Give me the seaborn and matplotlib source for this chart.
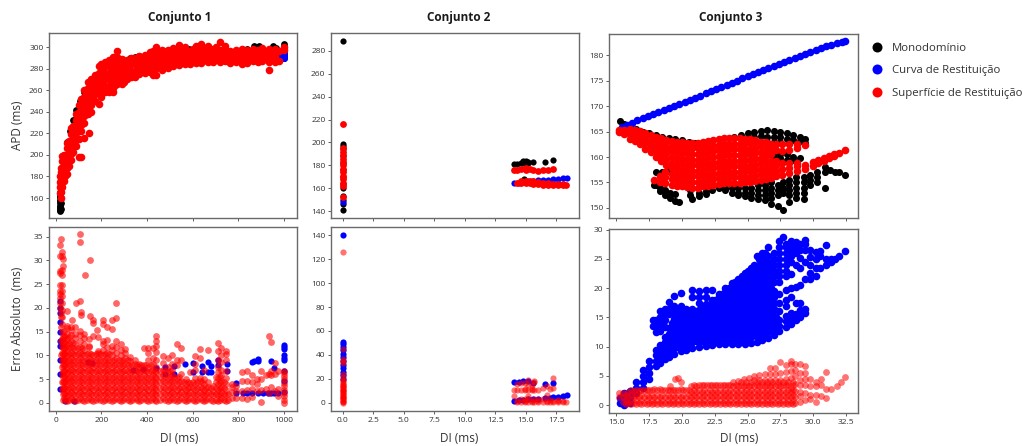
import matplotlib
matplotlib.use("Agg")
import matplotlib.pyplot as plt
from matplotlib.lines import Line2D
import pandas as pd
import seaborn as sns

# Each dict: x value -> y values
c1_apd_black = {18:[148,150,152,155,158,162,166],20:[149,153,157,161],22:[150,155,160],30:[186],36:[200],50:[212],62:[222],75:[232],90:[242],105:[250],125:[258],150:[268],175:[274],325:[290],345:[291],365:[292],440:[297],470:[296],585:[298],620:[297],672:[299],690:[297],760:[296],840:[298],870:[299,301],890:[300,301],915:[295],950:[299,301],965:[299],998:[292,294,296,300,303],1000:[290,293,297]}
c1_apd_blue = {790:[291],820:[291],850:[291],880:[292],910:[292],940:[291],970:[291],990:[290,292,294],1000:[290,292,294]}
c1_apd_red = {18:[165,170,175,180],22:[160,166,172,178,184,188],28:[170,176,182,188,194,199],34:[176,182,188,194,200],40:[180,186,192,198],48:[182,188,194,200,206,211],56:[190,196,202,208,213],66:[195,201,207,213,219,225],76:[203,209,215,221,227],88:[208,214,220,226,232,238],100:[198,215,222,228,234,240,246],112:[198,222,228,234,240,246,252],125:[216,230,236,242,248,254,260],140:[238,244,250,256,262,268],146:[220],155:[240,246,252,258,264,270],170:[250,256,262,268,274],187:[247,258,264,270,276,282],200:[254,260,266,272,278,284],215:[258,264,270,276,282,286],235:[258,264,270,276,282,288],250:[258,262,268,274,280,286,291],270:[266,272,278,284,291,296],290:[266,272,278,284,289],310:[270,276,282,288],330:[272,278,284,290],345:[272,278,284,290],365:[275,281,287,292],390:[276,282,288,293],412:[277,283,289,295],425:[274,283,290,296],441:[274,281,287,293,300],465:[279,285,291,297],490:[281,286,292,297],515:[282,288,294,299],540:[283,289,295,302],565:[284,290,296,300],590:[284,290,296],615:[285,290,296,301],638:[285,291,297,303],665:[286,291,297,301],690:[286,292,298],718:[286,291,297,305],740:[287,292,298,301],765:[285,290,296],790:[286,291,297],815:[284,290,298],840:[285,290,297],865:[287,292,298],885:[286,292,297],905:[287,293,299],934:[279,286,291,298],960:[286,292,298],980:[287,296],1000:[297,300]}
c1_apd_red_more = {260:[265,271,277,283],280:[269,275,281,287],300:[268,274,280,286],320:[274,280,286],355:[278,284,290],378:[278,284,290],402:[279,285,291],433:[280,286,292],453:[282,288,294],478:[283,289,295],502:[284,290,296],528:[285,291,297],552:[286,292,298],578:[287,293],602:[287,293,298],627:[288,294],652:[288,294,299],678:[289,295],704:[289,294,300],730:[289,295],752:[290,295],778:[288,294],803:[288,294],828:[288,294],852:[289,295],875:[289,295],895:[289,295],920:[289,295],948:[289,295]}

c1_err_blue = {18:[13,15,17,19,20,21.5],20:[3,6,9,12],40:[0.3],80:[0.3],140:[8.6],160:[8.5],340:[7],380:[7.2],440:[7.3],480:[6,7.6],520:[6,7.7],565:[8.2],600:[6.5,8.4],640:[6.5,7.7],665:[6.6,8.7],680:[7.8,6.5],710:[8,9],750:[8.2,6.8],790:[4.2,2],820:[2],840:[2],860:[2,8.7],870:[8.8],885:[2,8.8,9.3],910:[2],930:[2],945:[2,8.8],955:[7.3,2],975:[2],1000:[2.2,4.6,6.8,9,9.5,10,11.3,11.8,12.2]}
c1_err_red_a = {20:[20,21,22,23,23.5,24.7,27.3,27.8,31,33.3],22:[10,13,16,18,19,34.5],25:[3,4.5,6,7.5,9,10.5,12,13.5,15,16.5,18,19.5,21,22.5,23.5,24.8,28],28:[27,30.8,31.8],30:[28.7,30.3],35:[1,2,3.2,4.4,5.6,6.8,8,9.2,10.4,11.6,12.8,14,15.2],50:[0.4,1.4,2.6,3.8,5,6.2,7.4,8.6,9.8,11,12.2,13.4,14.6,15.8,16.2,19.3],65:[1,2.2,3.4,4.6,5.8,7,8.2,9.4,10.6,11.8,13,14.2,15.4,16],70:[17.4],85:[0.4,1.6,2.8,4,5.2,6.4,7.6,8.8,10,11.2,12.4,13.6,14.5,16],90:[21],105:[1,2.2,3.4,4.6,5.8,7,8.2,9.4,10.6,11.8,13,14.2,15.2],108:[21.4,33.8,35.5],110:[18.5,19.2],125:[0.4,1.6,2.8,4,5.2,6.4,7.6,8.8,10,11.2,12.4,13.6,14.5],127:[27],145:[1,2.2,3.4,4.6,5.8,7,8.2,9.4,10.6,11.8,12,13.5],148:[18.2,30],165:[0.4,1.6,2.8,4,5.2,6.4,7.6,8.8,10,14,16.8,17.5],180:[15.3],185:[1,2.2,3.4,4.6,5.8,7,8.2,9.4,10.6,11,13.8],205:[0.4,1.6,2.8,4,5.2,6.4,7.6,8.8,10,11.2,12.4,13,16.6,17.4],225:[1,2.2,3.4,4.6,5.8,7,8.2,9.4,10.6,11.8,13.3,16]}
c1_err_red_b = {245:[0.4,1.6,2.8,4,5.2,6.4,7.6,8.8,10,11.2,12,15.5,17.5],265:[1,2.2,3.4,4.6,5.8,7,8.2,9.4,10.6,11.8,13,17.8,21],285:[0.4,1.6,2.8,4,5.2,6.4,7.6,8.8,10,11.2,12.3],305:[1,2.2,3.4,4.6,5.8,7,8.2,9.4,10.6,11.4],325:[0.4,1.6,2.8,4,5.2,6.4,7.6,8.8,9.6],345:[1,2.2,3.4,4.6,5.8,7,8.2,9],365:[0.4,1.6,2.8,4,5.2,6.4,7.6,8.2],385:[1,2.2,3.4,4.6,5.8,7,8,11.6],405:[0.4,1.6,2.8,4,5.2,6.4,7.6,9,10.5,11.5],425:[1,2.2,3.4,4.6,5.8,7,8.2,9.5,11.6],440:[0.4,1.6,2.8,4,5.2,6.4,7.6,9,10.8,12,13,14],470:[1,2.2,3.4,4.6,5.8,7,8.3,9.8],490:[0.4,1.6,2.8,4,5.2,6.4,7.6,9.5],510:[1,2.2,3.4,4.6,5.8,7,8.2,10],530:[0.4,1.6,2.8,4,5.2,8,9,12.4],550:[1,2.2,3.4,4.6,6,9,11.6],570:[0.4,1.6,2.8,4,5.1],590:[1,2.2,3.4,4.2,6.5],610:[0.4,1.6,2.8,4,5.2,7,8.2,9.8],630:[1,2.2,3.4,4.6,5.3,9.5,11.4],650:[0.4,1.6,2.8,4,5,7],665:[1,2.2,3.4,4.3,11.2],690:[0.4,1.6,2.5,3.5],710:[0.4,1.6,2.8,4,5.2,6.4,7.5,9,11,12.7],725:[1,2.2,3.4,4.6,5.8,7,8.6,10,11.5],745:[0.4,1.6,2.8,4,5.2,6.7,9,10.3,11],770:[1,2.2,3.4,4],790:[1,2.6,3.5],815:[1,2.6,4.6,6.5],840:[0.8,2.8,4.6,6.7],860:[1.2,3,4.3,5.8],880:[2.5,4,5],900:[0.2,2.8,5,6.8],920:[3,5.8],935:[2,6,14],945:[3.4,5.8,6.8,12.8],960:[2.5,6,8.5],975:[1.5,3,6.8],1000:[0,0.7,1.4,2,2.8,3.5,4.2,5,5.6,6.2,6.8]}
# denser lower band of the error cloud in set 1
err_levels = [0.7,1.9,3.1,4.3,5.5,6.7,7.9,9.1,10.3,11.5,12.7,13.9]
c1_err_red_band = {30:err_levels[:12],42:err_levels[:12],57:err_levels[:12],75:err_levels[:11],95:err_levels[:10],115:err_levels[:10],135:err_levels[:9],155:err_levels[:9],175:err_levels[:9],195:err_levels[:9],215:err_levels[:9],235:err_levels[:9],255:err_levels[:8],275:err_levels[:8],295:err_levels[:8],315:err_levels[:8],335:err_levels[:7],355:err_levels[:7],375:err_levels[:7],395:err_levels[:7],415:err_levels[:7],435:err_levels[:6],455:err_levels[:6],480:err_levels[:6],500:err_levels[:6],520:err_levels[:5],540:err_levels[:5],560:err_levels[:4],580:err_levels[:4],600:err_levels[:4],620:err_levels[:4],640:err_levels[:4],660:err_levels[:3],680:err_levels[:3],700:err_levels[:5],718:err_levels[:5],735:err_levels[:4],755:err_levels[:2]}

c2_apd_black = {0:[141,146,150,153,160,164,170,176,182,188,194,197,199,288.5],14:[181.5],14.3:[181.5],14.6:[182],14.8:[182,183.5],15:[182,183,184],15.2:[182,183],15.6:[183],16.6:[183],17.2:[184.5],14.81:[168]}
c2_apd_blue = {0:[148],14:[164.5],14.4:[165],14.8:[165.5],15.2:[166],15.6:[166.4],16:[166.8],16.4:[167.2],16.8:[167.5],17.2:[168],17.6:[168.4],18:[168.8],18.4:[169]}
c2_apd_red = {0:[152,162,165,168,171,174,177,180,183,186,189,192,195,216.5],14:[176],14.3:[176,165],14.6:[176.5,164.5,166.5],15:[176,177.5,164.5,166.5],15.3:[176.5,164.5,166.5],15.6:[176,164,166],16:[175.5,163.5,165.5],16.4:[176,163,165],16.8:[176,162.5,164.5],17.2:[176.5,162.5,164],17.6:[162.5,164],18:[162.5,163.5],18.3:[162.5]}

c2_err_blue = {0:[20,23,26,29,32,35,38,41,44,47,49,51,140],14:[2,17.5],14.4:[2.2,17.5],14.8:[2.5,18.3],15.2:[3,18.3],15.6:[3,17],16:[3.5],16.6:[4,16],17:[4.5],17.2:[5,17],17.6:[5.3],18:[5.8],18.4:[6.3]}
c2_err_red = {0:[0.3,1,1.5,2,3,4,4.5,5,6,7,7.5,8,9,10,10.5,11,12,13,13.5,14,15,16,16.5,18,19,22,24,33,35,37,45,126],14:[5.5,11],14.3:[0.5,2,10.5,16],14.6:[1,3,11,16.5],14.9:[0.5,2,3.5,10.5,12,17],15.2:[1,3,6,11,15,19],15.5:[0.5,2,10.5,12,15],15.7:[1,3,11,17.5,18.5],16:[0.5,2,3.5,10.5],16.4:[1,3,12.5],16.7:[0.5,2,6.5,14.5],17:[1,2.5,12],17.2:[0.5,2,12.5,21],17.6:[0.5,1.5,2.5],18:[0.5,1.5],18.3:[0.5]}

c3_apd_black = {15.3:[167],15.6:[166.5],16:[166],16.5:[165.5],17:[165],17.5:[164.7],18:[164.3,157,154.5],18.5:[164,157,155],19:[163.8,157.2],19.5:[163.6,152.8,151.3],20:[163.3],20.5:[163],21:[162.8],24:[164],24.5:[164.4],25:[164.8,164],25.5:[165,164],26:[165.2,164.2],26.5:[165.3,164,163],27:[165.2,164,163,161,160],27.5:[165,164,163,160.5,159.8],28:[164.8,163.6,160.5,159.5],28.5:[164.4,163.4,160,159.5],29:[164,163.2,159.8],29.4:[163.6,162.8],17.9:[154.5],18.3:[154,153.3],18.7:[153.5,152.6],19.1:[153,152],19.8:[151.2],20.6:[152.5,153.5],20.8:[151.8],21.3:[153,152.3],21.8:[153.3,152.7],22.3:[153.6],22.8:[154],23.3:[154,153.5],23.8:[154,153],24.3:[154,153,152.5],24.8:[154,153,152.3],25.3:[154,153,152],25.8:[154.5,153.5,152.5,151.8],26.3:[154.5,153.5,152.5,151.5],26.8:[155,154,153,152,150.8],27.3:[154.5,153.5,152.5,150.3],27.7:[155,154,153,149.6],28.2:[155.5,154.5,153.5,152.5,151.2],28.7:[156,155,154,153,152],29.3:[156,155,154,153,151.7],29.8:[156.5,155.5,154.5],30.3:[157,156,155],30.9:[158,157,154],31.3:[157.5],31.7:[157],32:[157],32.4:[156.5]}
c3_apd_blue_x = [15.4,15.8,16.2,16.6,17,17.4,17.8,18.2,18.6,19,19.4,19.8,20.2,20.6,21,21.4,21.8,22.2,22.6,23,23.4,23.8,24.2,24.6,25,25.4,25.8,26.2,26.6,27,27.4,27.8,28.2,28.6,29,29.4,29.8,30.2,30.6,31,31.4,31.8,32.2,32.4]
c3_apd_blue_y = [165.9,166.3,166.7,167.2,167.6,168,168.4,168.8,169.2,169.6,170,170.5,170.9,171.3,171.7,172.1,172.5,173,173.4,173.8,174.2,174.6,175,175.5,175.9,176.3,176.7,177.1,177.5,177.9,178.3,178.7,179.1,179.5,179.9,180.3,180.7,181,181.4,181.8,182,182.4,182.7,182.8]
c3_apd_red = {15.2:[165,165.4],15.6:[164.5,165.3],16:[163.6,164.6,165.6],16.4:[163.2,164.3,165.3],16.8:[162.5,163.6,164.7,165.2],17.2:[161.6,162.7,163.8,164.7],17.6:[161,162.1,163.2,164.3],17.9:[155.5],18:[160,161.1,162.2,163.3,164],18.3:[155,156.3],18.4:[159.2,160.3,161.4,162.5,163.7],18.7:[154.8,156,157],18.8:[158.5,159.6,160.7,161.8,162.9,163.4],19.2:[154.5,155.6,156.7,157.8,158.9,160,161.1,162.2,163.2],19.6:[154.3,155.4,156.5,157.6,158.7,159.8,160.9,162,163],20:[154.2,155.3,156.4,157.5,158.6,159.7,160.8,161.9,162.9],20.4:[154.1,155.2,156.3,157.4,158.5,159.6,160.7,161.8,162.8],20.8:[154,155.1,156.2,157.3,158.4,159.5,160.6,161.7,162.8],21.2:[154,155.1,156.2,157.3,158.4,159.5,160.6,161.7,162.8],21.6:[154.2,155.3,156.4,157.5,158.6,159.7,160.8,161.9,163],22:[154.3,155.4,156.5,157.6,158.7,159.8,160.9,162,163.1],22.4:[154.5,155.6,156.7,157.8,158.9,160,161.1,162.2,163.3],22.8:[154.7,155.8,156.9,158,159.1,160.2,161.3,162.4,163.5],23.2:[154.8,155.9,157,158.1,159.2,160.3,161.4,162.5,163.7],23.6:[154.9,156,157.1,158.2,159.3,160.4,161.5,162.6,163.8],24:[154.9,156,157.1,158.2,159.3,160.4,161.5,162.6,163.8],24.4:[154.9,156,157.1,158.2,159.3,160.4,161.5,162.6,163.7],24.8:[155,156.1,157.2,158.3,159.4,160.5,161.6,162.7,163.6],25.2:[155,156.1,157.2,158.3,159.4,160.5,161.6,162.7,163.5],25.6:[155.2,156.3,157.4,158.5,159.6,160.7,161.8,162.9,163.3],26:[155.5,156.6,157.7,158.8,159.9,161,162.1,163],26.4:[155.7,156.8,157.9,159,160.1,161.2,162.3,162.9],26.8:[155.9,157,158.1,159.2,160.6,161.6,162.6],27.2:[156.2,157.3,158.4,159.3,161.4,162.5],27.6:[156.5,157.6,158.8,161.2,162.5],28.2:[156.8,157.8,158.8,161.3,162.5],28.8:[157.2,158.2,158.8,161.8,162.6],29.4:[157.6,158.5,162.3],30:[158.3,159],30.4:[158.8,159.4],30.8:[159.3,159.8],31.2:[159.8,160.2],31.6:[160.2,160.6],32:[160.7],32.4:[161.3]}

c3_err_blue = {15.3:[0.3,1.2],15.6:[0,1,2],16:[0.3,1.3,2.4],16.5:[2,3,4],17:[3,4,5,6],17.5:[4.5,5.5,6.5,7.5],17.8:[13.5,14.6],18:[6.6,7.6,8.6,9.5,12.5,13.5,14.6],18.3:[7.2,8.2,9.2,10.2,12.6,13.8,15,16],18.7:[7.8,8.8,9.8,10.8,11.6,13.3,14.5,15.6,16.5],19:[8.2,9.2,10.2,11.2,12.2,13.2,15.5,16.5,17.7],19.4:[8.8,9.8,10.8,11.8,12.8,13.8,14.8,15.8,17,18.7],19.9:[9.2,10.2,11.2,12.2,13.2,14.2,15.2,16,17,19.1],20.3:[9.4,10.4,11.4,12.4,13.4,14.4,15.4,16.5],20.8:[9.8,10.8,11.8,12.8,13.8,14.8,15.8,16.5,18.5,19.7],21.3:[10,11,12,13,14,15,16.3,17.5,18.5,19.5],21.8:[10.1,11.1,12.1,13.1,14.1,15.1,16.1,17.3,18.5,19.7],22.3:[10.3,11.3,12.3,13.3,14.3,15.3,16.3,17.3,18,19.7],22.8:[10.4,11.4,12.4,13.4,14.4,15.4,16.4,17.4,18.5,19],23.3:[10.4,11.4,12.4,13.4,14.4,15.4,16.4,17.4,18.4,19.4,20],23.8:[10.5,11.5,12.5,13.5,14.5,15.5,16.5,17.5,18.5,19.5,20.8],24.3:[10.5,11.5,12.5,13.5,14.5,15.5,16.5,17.5,18.5,19.5,20.5,21.5],24.8:[10.5,11.5,12.5,13.5,14.5,15.5,16.5,17.5,18.5,19.5,20.5,21.5,22.5],25.3:[10.6,11.6,12.6,13.6,14.6,15.6,16.6,17.6,18.6,19.6,20.6,21.6,22.6,23.5],25.7:[10.8,11.8,12.8,13.8,14.8,15.8,16.8,17.8,18.8,19.8,20.8,21.8,22.8,23.8,25.4],26.1:[11.1,12.1,13.1,14.1,15.1,16.1,17.1,18.1,19.1,20.1,21.1,22.1,23.1,24.1,25,26],26.6:[11.5,12.5,13.5,14.5,15.5,16.5,17.5,18.5,19.5,20.5,21.5,22.5,23.5,24.5,25.5,27],27:[12,13,14,15.2,16.5,17.5,18.5,19.5,21,22,23,24,25,26],27.4:[12.6,13.6,14.6,16,17.5,19,21,22,23,24,25,26,27,28],27.7:[28.7],27.9:[13.3,14.3,15.3,17,18,19.7,22,23,24,25,26,27,27.5],28.3:[13.8,14.8,15.8,18.5,20,22.4,24.5,25.5,26.5,27.5,28],28.7:[14.5,15.5,17.5,20.2,24,26,27,27.8],29:[15,16.2,17.4,20.5,23.5,25.2,26.5,27.5],29.4:[15.7,16.5,21.5,24.5,26.5,27.5,28.3],29.8:[21.5,22.5,24,25.3,26.5],30.2:[22,23.4,25,26.2],30.5:[23.4,25.5,26.3],31:[24,25,27.3],31.4:[24.5,25],31.7:[25],32:[25.5],32.4:[26.3]}
# blue error cloud in set 3: columns between the ones above
blue_levels = [9,10,11,12,13,14,15,16,17,18,19,20,21,22,23,24,25,26]
c3_err_blue_mid = {19.2:blue_levels[:6],19.65:blue_levels[1:8],20.1:blue_levels[1:8],20.55:blue_levels[1:8],21.05:blue_levels[2:8],21.55:blue_levels[2:9],22.05:blue_levels[2:9],22.55:blue_levels[2:10],23.05:blue_levels[2:11],23.55:blue_levels[2:12],24.05:blue_levels[2:13],24.55:blue_levels[2:14],25.05:blue_levels[2:15],25.5:blue_levels[3:16],25.9:blue_levels[3:17],26.35:blue_levels[3:18],26.8:blue_levels[4:16],27.2:blue_levels[5:7]}
c3_err_red = {15.2:[1.4,2],15.5:[0.5,1.3,2],15.9:[0.3,1.3,2.2],16.3:[0.3,1.3,2.4],16.7:[0.3,1.3,2.4],17.1:[0.3,1.3,2.5],17.5:[0.3,1.3,2.6],17.9:[0.3,1.3,2.7],18.3:[0.3,1.3,2.7],18.7:[0.3,1.3,2.5],19.1:[0.3,1.3,2.6,3.2],19.5:[0.3,1.3,2.5,4.4],19.7:[4.6],19.9:[0.3,1.3,2.7,3.9],20.3:[0.3,1.3,2.6],20.7:[0.3,1.3,2.3,3.2],21.1:[0.3,1.3,2.3,3.3],21.5:[0.3,1.3,2.3,3.4],21.9:[0.3,1.3,2.3,3.5],22.3:[0.3,1.3,2.3,3.5],22.7:[0.3,1.3,2.3,3.5],23.1:[0.3,1.3,2.3,3.5],23.5:[0.3,1.3,2.3,3.5],23.9:[0.3,1.3,2.3,3.3,3.9],24.3:[0.3,1.3,2.3,3.3,4.2],24.7:[0.3,1.3,2.3,3.3,4.4],25.1:[0.3,1.3,2.3,3.3,4.7],25.5:[0.3,1.3,2.3,3.3,4.3,5],25.9:[0.3,1.3,2.3,3.3,4.3,5.1],26.3:[0.3,1.3,2.3,3.3,4.3,5.3],26.7:[0.3,1.3,2.3,3.3,4.3,5.4,6.4],27.1:[0.3,1.3,2.3,3.3,4.3,5.4,6.4],27.5:[0.3,1.3,2.3,3.3,4.3,5.5,7.3],27.9:[0.3,1.3,2.3,3.4,4.5,5.6,6.8],28.3:[0.3,1.3,2.3,3,4.6,5.8,7,7.5],28.6:[0.3,1.4,2.4,3.6,5,6,7],29:[0.6,1.6,2.2,3.5,4.3,5.5,7.1],29.4:[0.8,2,3.5,4.5,5.5,6.7],29.8:[1,1.8,3.2,4.5],30.2:[0.5,1.8,3.3,4],30.6:[1.5,3.5,4.5],31:[1.2,2.7,5.6],31.4:[2.8],31.8:[3.2],32.1:[4],32.4:[4.8]}
# denser lower band of the red error cloud in set 3
low_levels = [0.2,0.8,1.8,2.6,3.4,4.0]
c3_err_red_band = {15.7:low_levels[:3],16.1:low_levels[:4],16.5:low_levels[:4],16.9:low_levels[:4],17.3:low_levels[:4],17.7:low_levels[:4],18.1:low_levels[:4],18.5:low_levels[:4],18.9:low_levels[:4],19.3:low_levels[:4],19.7:low_levels[:4],20.1:low_levels[:4],20.5:low_levels[:4],20.9:low_levels[:5],21.3:low_levels[:5],21.7:low_levels[:5],22.1:low_levels[:5],22.5:low_levels[:5],22.9:low_levels[:5],23.3:low_levels[:5],23.7:low_levels[:5],24.1:low_levels[:5],24.5:low_levels[:6],24.9:low_levels[:6],25.3:low_levels[:6],25.7:low_levels[:6],26.1:low_levels[:6],26.5:low_levels[:6],26.9:low_levels[:6],27.3:low_levels[:6],27.7:low_levels[:6],28.1:low_levels[:6],28.5:low_levels[:6]}

titles = ["Conjunto 1", "Conjunto 2", "Conjunto 3"]
legend_labels = ["Monodomínio", "Curva de Restituição", "Superfície de Restituição"]
x_label = "DI (ms)"
y_labels = ["APD (ms)", "Erro Absoluto  (ms)"]

sns.set_style("white")
plt.rcParams["font.family"] = ["Open Sans", "DejaVu Sans"]

W, H = 1023, 446
fig = plt.figure(figsize=(W / 100, H / 100), dpi=100)
BLACK, BLUE, RED = "#000000", "#0000ff", "#ff0000"
S, S_CLOUD = 20, 30


def frame(*dicts):
    rows = [(x, y) for d in dicts for x, ys in d.items() for y in ys]
    return pd.DataFrame(rows, columns=["x", "y"])


def axes_px(l, t, r, b, xlim, ylim):
    ax = fig.add_axes([l / W, 1 - b / H, (r - l) / W, (b - t) / H])
    ax.set_xlim(*xlim)
    ax.set_ylim(*ylim)
    for s in ax.spines.values():
        s.set_color("#6a6a6a")
        s.set_linewidth(1.0)
    ax.tick_params(left=True, bottom=True, length=2, width=0.6, color="#444444",
                   labelsize=6, labelcolor="#333333", pad=2)
    return ax


def dots(ax, df, color, alpha=1.0, size=S):
    sns.scatterplot(data=df, x="x", y="y", color=color, s=size, linewidth=0,
                    alpha=alpha, legend=False, ax=ax)
    ax.set_xlabel("")
    ax.set_ylabel("")


a1 = axes_px(49, 33, 297, 218, (-30, 1057), (141.5, 313))
a2 = axes_px(331, 33, 579, 218, (-0.95, 19.35), (134, 295.7))
a3 = axes_px(609, 34, 858, 218, (14.43, 33.43), (148, 184.2))
b1 = axes_px(49, 227, 297, 411, (-30, 1057), (-1.7, 37))
b2 = axes_px(331, 227, 579, 411, (-0.95, 19.35), (-6.7, 146.7))
b3 = axes_px(609, 229, 858, 413, (14.43, 33.43), (-1.35, 30.1))

dots(a1, frame(c1_apd_black), BLACK, size=24)
dots(a1, frame(c1_apd_blue), BLUE, size=26)
dots(a1, frame(c1_apd_red, c1_apd_red_more), RED, size=S_CLOUD)
dots(b1, frame(c1_err_blue), BLUE)
dots(b1, frame(c1_err_red_a, c1_err_red_b, c1_err_red_band), RED, 0.6, size=24)

dots(a2, frame(c2_apd_black), BLACK)
dots(a2, frame(c2_apd_blue), BLUE)
dots(a2, frame(c2_apd_red), RED, size=24)
dots(b2, frame(c2_err_blue), BLUE)
dots(b2, frame(c2_err_red), RED, 0.55)

dots(a3, frame(c3_apd_black), BLACK, size=26)
dots(a3, pd.DataFrame({"x": c3_apd_blue_x, "y": c3_apd_blue_y}), BLUE, size=S_CLOUD)
dots(a3, frame(c3_apd_red), RED, size=S_CLOUD)
dots(b3, frame(c3_err_blue, c3_err_blue_mid), BLUE, size=S_CLOUD)
dots(b3, frame(c3_err_red, c3_err_red_band), RED, 0.55, size=24)

a1.set_xticks([0, 200, 400, 600, 800, 1000])
a2.set_xticks([0, 2.5, 5, 7.5, 10, 12.5, 15, 17.5])
a3.set_xticks([15, 17.5, 20, 22.5, 25, 27.5, 30, 32.5])
b1.set_xticks([0, 200, 400, 600, 800, 1000])
b2.set_xticks([0, 2.5, 5, 7.5, 10, 12.5, 15, 17.5])
b3.set_xticks([15, 17.5, 20, 22.5, 25, 27.5, 30, 32.5])
for ax in (a1, a2, a3):
    ax.tick_params(labelbottom=False)

a1.set_yticks(range(160, 301, 20))
a2.set_yticks(range(140, 281, 20))
a3.set_yticks(range(150, 181, 5))
b1.set_yticks(range(0, 36, 5))
b2.set_yticks(range(0, 141, 20))
b3.set_yticks(range(0, 31, 5))

for ax, t, tx in zip((a1, a2, a3), titles, (0.528, 0.516, 0.49)):
    ax.set_title(t, fontsize=8.5, fontweight="bold", color="#1a1a1a", pad=9, x=tx)
for ax, lx, ly in ((b1, 0.524, -0.147), (b2, 0.516, -0.147), (b3, 0.522, -0.136)):
    ax.set_xlabel(x_label, fontsize=8.5, color="#333333", va="center")
    ax.xaxis.set_label_coords(lx, ly)
a1.set_ylabel(y_labels[0], fontsize=8.5, color="#333333", va="center")
b1.set_ylabel(y_labels[1], fontsize=8.5, color="#333333", va="center")
a1.yaxis.set_label_coords(-0.129, 0.5)
b1.yaxis.set_label_coords(-0.129, 0.5)

handles = [Line2D([], [], linestyle="none", marker="o", markersize=7.2,
                  markeredgewidth=0, color=c) for c in (BLACK, BLUE, RED)]
fig.legend(handles, legend_labels, loc="upper left", bbox_to_anchor=(858 / W, 1 - 35 / H),
           frameon=False, fontsize=8.2, labelspacing=1.0, handletextpad=0.25,
           borderpad=0.2, labelcolor="#333333")

fig.savefig("out.png", dpi=100)
